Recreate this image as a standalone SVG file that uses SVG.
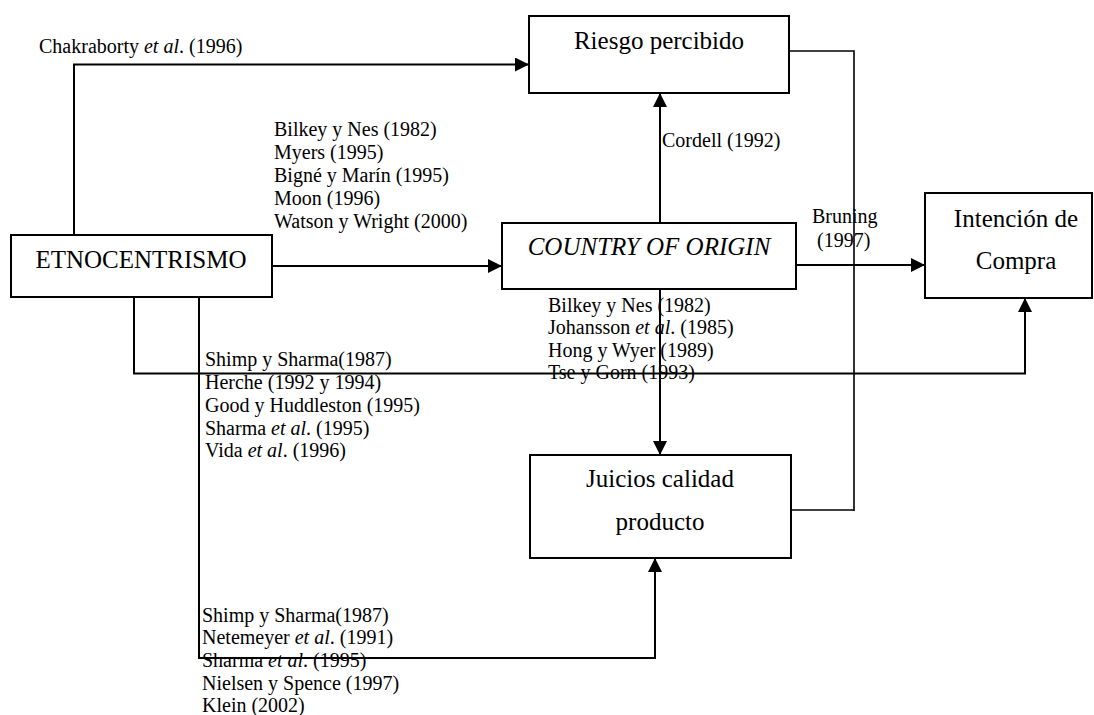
<svg xmlns="http://www.w3.org/2000/svg" width="1094" height="715" viewBox="0 0 1094 715">
  <style>
    .box { fill: #fff; stroke: #000; stroke-width: 2; }
    .big { font-family: "Liberation Serif", "Times New Roman", serif; font-size: 25px; fill: #000; text-anchor: middle; }
    .sm { font-family: "Liberation Serif", "Times New Roman", serif; font-size: 20px; fill: #000; }
    .ln { fill: none; stroke: #000; stroke-width: 2; }
    .thin { fill: none; stroke: #000; stroke-width: 1.6; }
  </style>
  <defs>
    <marker id="ah" markerUnits="userSpaceOnUse" markerWidth="14" markerHeight="14" refX="14" refY="7" orient="auto">
      <path d="M0,0 L14,7 L0,14 z" fill="#000"/>
    </marker>
  </defs>
  <rect width="1094" height="715" fill="#fff"/>

  <g id="connectors">
    <polyline class="ln" points="74,236 74,64.5 529,64.5" marker-end="url(#ah)"/>
    <line class="ln" x1="272" y1="266" x2="502" y2="266" marker-end="url(#ah)"/>
    <line class="ln" x1="660" y1="223" x2="660" y2="93" marker-end="url(#ah)"/>
    <line class="ln" x1="660" y1="289" x2="660" y2="455" marker-end="url(#ah)"/>
    <line class="ln" x1="795" y1="265" x2="925" y2="265" marker-end="url(#ah)"/>
    <polyline class="ln" points="134,297 134,373.5 1025,373.5 1025,298" marker-end="url(#ah)"/>
    <polyline class="ln" points="199,297 199,658 655,658 655,558" marker-end="url(#ah)"/>
    <polyline class="thin" points="789,51 854,51 854,511"/>
    <line class="thin" x1="788" y1="510" x2="854" y2="510"/>
  </g>

  <g id="riesgo">
    <rect class="box" x="529" y="16" width="260" height="77"/>
    <text class="big" x="659" y="49">Riesgo percibido</text>
  </g>
  <g id="etnocentrismo">
    <rect class="box" x="11" y="235" width="261" height="62"/>
    <text class="big" x="141" y="268">ETNOCENTRISMO</text>
  </g>
  <g id="country-of-origin">
    <rect class="box" x="502" y="223" width="294" height="66"/>
    <text class="big" x="649" y="255" font-style="italic">COUNTRY OF ORIGIN</text>
  </g>
  <g id="intencion">
    <rect class="box" x="925" y="193" width="167" height="105"/>
    <text class="big" x="1016" y="227">Intención de</text>
    <text class="big" x="1016" y="269">Compra</text>
  </g>
  <g id="juicios">
    <rect class="box" x="530" y="455" width="261" height="103"/>
    <text class="big" x="660" y="487">Juicios calidad</text>
    <text class="big" x="660" y="530">producto</text>
  </g>

  <g id="labels">
    <text class="sm" x="39" y="53">Chakraborty <tspan font-style="italic">et al</tspan>. (1996)</text>
    <text class="sm" x="274" y="136">Bilkey y Nes (1982)</text>
    <text class="sm" x="274" y="159">Myers (1995)</text>
    <text class="sm" x="274" y="182">Bigné y Marín (1995)</text>
    <text class="sm" x="274" y="205">Moon (1996)</text>
    <text class="sm" x="274" y="228">Watson y Wright (2000)</text>
    <text class="sm" x="662" y="147">Cordell (1992)</text>
    <text class="sm" x="812" y="223">Bruning</text>
    <text class="sm" x="817" y="247">(1997)</text>
    <text class="sm" x="548" y="312">Bilkey y Nes (1982)</text>
    <text class="sm" x="548" y="334">Johansson <tspan font-style="italic">et al</tspan>. (1985)</text>
    <text class="sm" x="548" y="357">Hong y Wyer (1989)</text>
    <text class="sm" x="548" y="379">Tse y Gorn (1993)</text>
    <text class="sm" x="205" y="366">Shimp y Sharma(1987)</text>
    <text class="sm" x="205" y="389">Herche (1992 y 1994)</text>
    <text class="sm" x="205" y="412">Good y Huddleston (1995)</text>
    <text class="sm" x="205" y="435">Sharma <tspan font-style="italic">et al</tspan>. (1995)</text>
    <text class="sm" x="205" y="457">Vida <tspan font-style="italic">et al</tspan>. (1996)</text>
    <text class="sm" x="202" y="622">Shimp y Sharma(1987)</text>
    <text class="sm" x="202" y="644">Netemeyer <tspan font-style="italic">et al</tspan>. (1991)</text>
    <text class="sm" x="202" y="667">Sharma <tspan font-style="italic">et al</tspan>. (1995)</text>
    <text class="sm" x="202" y="690">Nielsen y Spence (1997)</text>
    <text class="sm" x="202" y="712">Klein (2002)</text>
  </g>
</svg>
